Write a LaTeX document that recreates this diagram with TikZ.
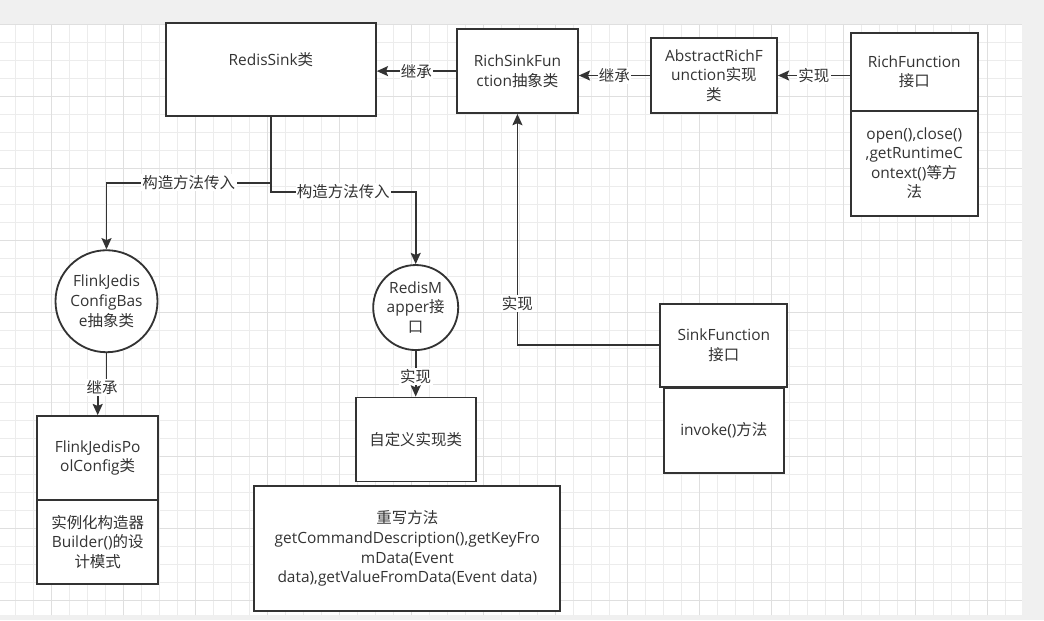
\documentclass[tikz,border=0pt]{standalone}
\usepackage{fontspec}
\setmainfont{Open Sans}
\newfontfamily\zhfont{Noto Sans CJK SC}
\newcommand\zh[1]{{\zhfont #1}}
\usepackage{xcolor}
\usepackage{tikz}
\usetikzlibrary{arrows.meta,positioning}

\definecolor{ink}{HTML}{333333}
\definecolor{pagebg}{HTML}{F0F0F0}
\definecolor{gridminor}{HTML}{ECECEC}
\definecolor{gridmajor}{HTML}{DFDFDF}

\begin{document}
\begin{tikzpicture}[
  font=\fontsize{11}{13.9}\selectfont,
  cls/.style={rectangle,draw=ink,fill=white,line width=1.3pt,text=ink,align=center,inner sep=1pt},
  iface/.style={circle,draw=ink,fill=white,line width=1.3pt,text=ink,align=center,inner sep=0pt},
  lbl/.style={fill=white,text=ink,inner sep=1pt},
  arr/.style={-{Stealth[length=2.8mm,width=2.5mm,inset=0.5mm]},draw=ink,line width=1.2pt}
]
% page and grid
\useasboundingbox (-12.925mm,6.175mm) rectangle (248.075mm,-148.825mm);
\fill[pagebg] (-12.925mm,6.175mm) rectangle (248.075mm,-148.825mm);
\fill[white] (-12.925mm,0mm) rectangle (242.575mm,-147.575mm);
\draw[gridminor,line width=0.5pt] (-12.925mm,-147.575mm) grid[step=4.5mm] (242.575mm,0mm);
\draw[gridmajor,line width=0.6pt] (-12.925mm,-147.575mm) grid[step=18mm] (242.575mm,0mm);

% top row
\node[cls,minimum width=52.5mm,minimum height=23.25mm,text depth=5mm] (sink) at (54.8mm,-11.2mm) {RedisSink\zh{类}};
\node[cls,right=19.8mm of sink,yshift=-0.4mm,minimum width=30.25mm,minimum height=21mm] (richsink) {RichSinkFun\\ction\zh{抽象类}};
\node[cls,right=17.8mm of richsink,yshift=-1.1mm,minimum width=31.5mm,minimum height=18.75mm] (abstract) {AbstractRichF\\unction\zh{实现}\\\zh{类}};
\node[cls,right=18mm of abstract,yshift=0.9mm,minimum width=31.75mm,minimum height=19.5mm] (rfhead) {RichFunction\\\zh{接口}};
\node[cls,below=-1.3pt of rfhead,minimum width=31.75mm,minimum height=26.25mm] (rfbody) {open(),close()\\,getRuntimeC\\ontext()\zh{等方}\\\zh{法}};

% left branch
\node[iface,below=33.1mm of sink,xshift=-41.1mm,minimum size=25.5mm] (cfgbase) {FlinkJedis\\ConfigBas\\e\zh{抽象类}};
\node[cls,below=15.5mm of cfgbase,xshift=-2.2mm,minimum width=30.25mm,minimum height=21mm] (poolhead) {FlinkJedisPo\\olConfig\zh{类}};
\node[cls,below=-1.3pt of poolhead,minimum width=30.25mm,minimum height=21mm] (poolbody) {\zh{实例化构造器}\\Builder()\zh{的设}\\\zh{计模式}};

% middle branch
\node[iface,below=36.8mm of sink,xshift=36.2mm,minimum size=21.25mm] (mapper) {RedisM\\apper\zh{接}\\\zh{口}};
\node[cls,below=11.4mm of mapper,minimum width=30mm,minimum height=21mm] (impl) {\zh{自定义实现类}};
\node[cls,below=0.7mm of impl,xshift=-2.1mm,minimum width=76.5mm,minimum height=31.25mm] (override) {\zh{重写方法}\\getCommandDescription(),getKeyFro\\mData(Event\\data),getValueFromData(Event data)};

% right branch
\node[cls,below=47.2mm of richsink,xshift=51.6mm,minimum width=31.75mm,minimum height=20.75mm] (sinkhead) {SinkFunction\\\zh{接口}};
\node[cls,below=-0.6pt of sinkhead,minimum width=30mm,minimum height=21.25mm] (sinkbody) {invoke()\zh{方法}};

\draw[arr] (richsink.west) -- node[lbl]{\zh{继承}} (richsink.west -| sink.east);
\draw[arr] (abstract.west) -- node[lbl]{\zh{继承}} (abstract.west -| richsink.east);
\draw[arr] (abstract.east -| rfhead.west) -- node[lbl]{\zh{实现}} (abstract.east);
\draw[arr] (sink.south) -- ++(0,-16.5mm) -| node[lbl,pos=.25]{\zh{构造方法传入}} (cfgbase.north);
\draw[arr] (sink.south) -- ++(0,-18.75mm) -| node[lbl,pos=.25]{\zh{构造方法传入}} (mapper.north);
\draw[arr] (cfgbase.south) -- ++(0,-8.5mm) -| node[lbl,pos=.25]{\zh{继承}} (poolhead.north);
\draw[arr] (mapper.south) -- node[lbl,pos=.56]{\zh{实现}} (impl.north);
\draw[arr] (sinkhead.west) -| node[lbl,pos=.59]{\zh{实现}} (richsink.south);
\end{tikzpicture}
\end{document}
